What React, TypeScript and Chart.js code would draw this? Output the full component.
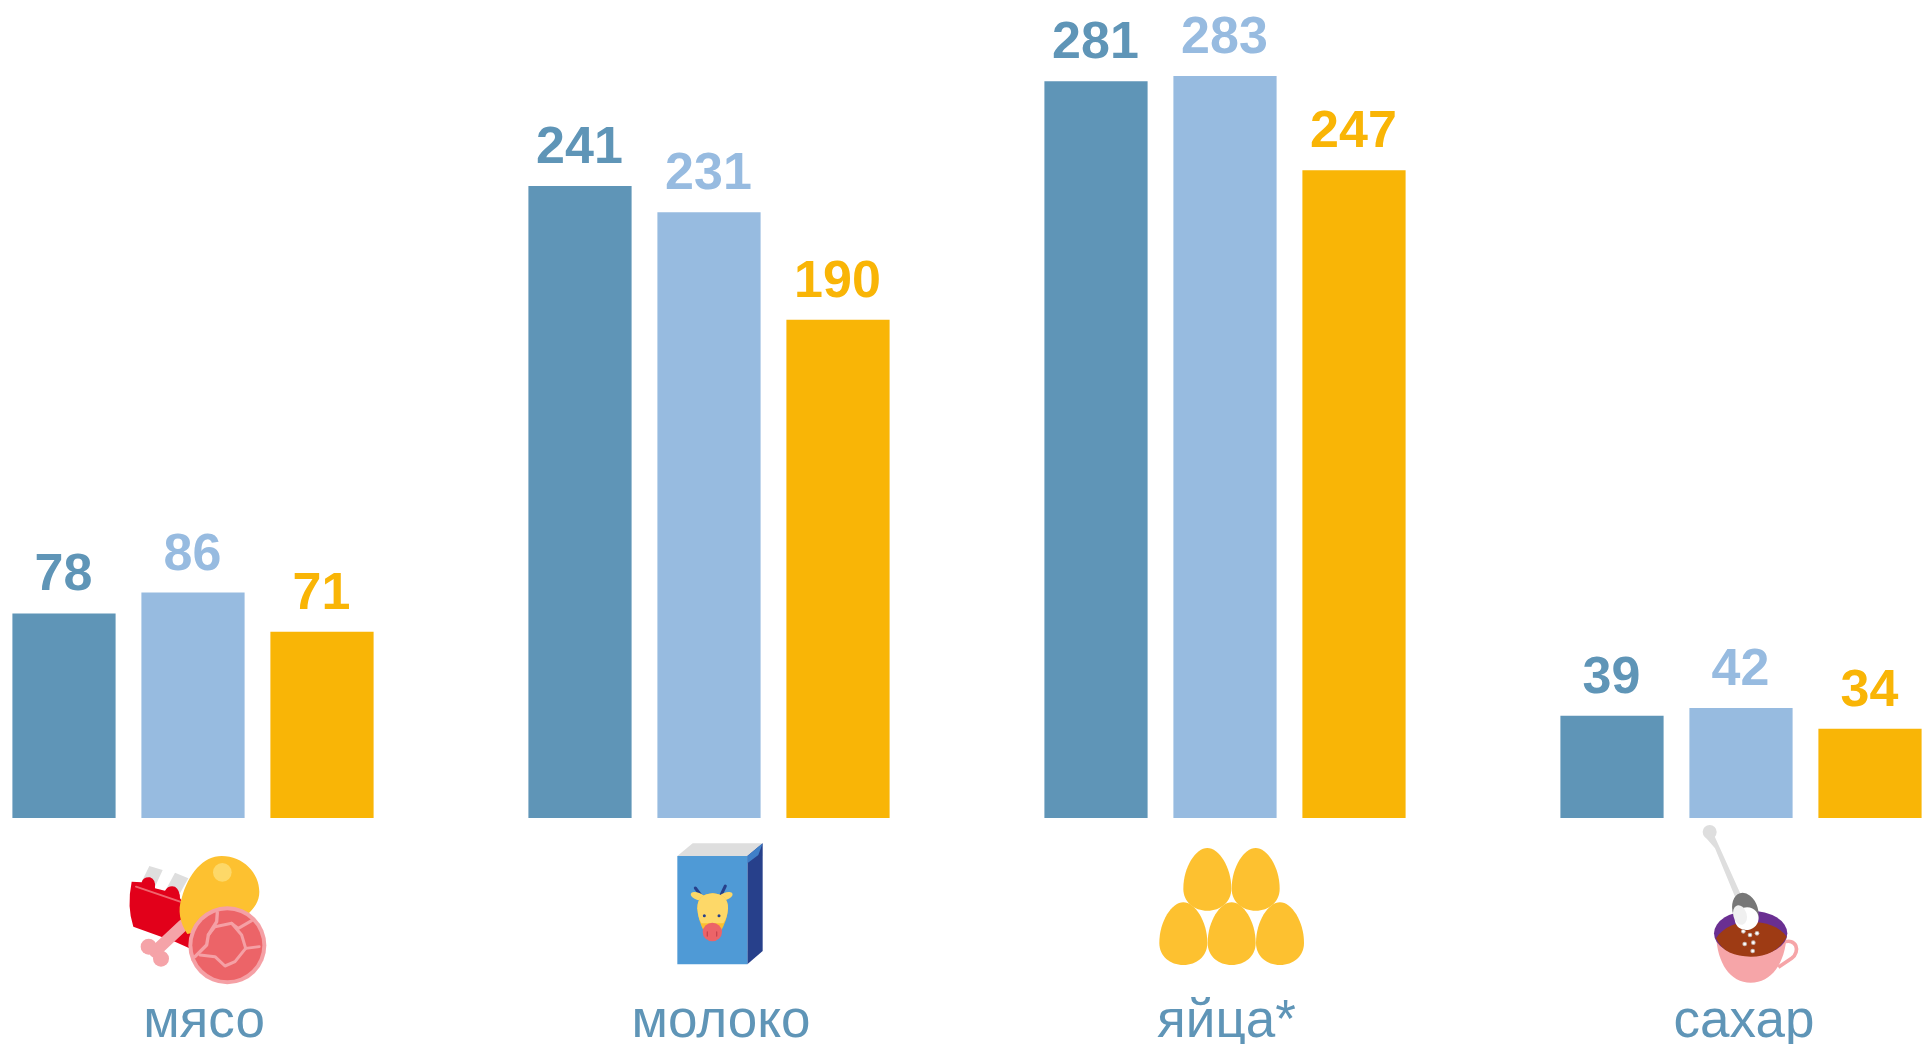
import React, { useEffect, useRef } from "react";
import { Chart, registerables } from "chart.js";

Chart.register(...registerables);

const categories = ["мясо", "молоко", "яйца*", "сахар"];
const seriesA = [78, 241, 281, 39];
const seriesB = [86, 231, 283, 42];
const seriesC = [71, 190, 247, 34];
const seriesColors = ["#5F95B7", "#97BBE0", "#F9B506"];
const categoryLabelShift = [11, 12, 1.5, 3];

type C = CanvasRenderingContext2D;

function poly(ctx: C, pts: number[][], fill: string) {
  ctx.fillStyle = fill;
  ctx.beginPath();
  pts.forEach((p, i) => (i ? ctx.lineTo(p[0], p[1]) : ctx.moveTo(p[0], p[1])));
  ctx.closePath();
  ctx.fill();
}
function circle(ctx: C, x: number, y: number, r: number, fill: string) {
  ctx.fillStyle = fill;
  ctx.beginPath();
  ctx.arc(x, y, r, 0, Math.PI * 2);
  ctx.fill();
}
function oval(ctx: C, x: number, y: number, rx: number, ry: number, rot: number, fill: string) {
  ctx.fillStyle = fill;
  ctx.beginPath();
  ctx.ellipse(x, y, rx, ry, rot, 0, Math.PI * 2);
  ctx.fill();
}
function stroke(ctx: C, pts: number[][], color: string, w: number) {
  ctx.strokeStyle = color;
  ctx.lineWidth = w;
  ctx.lineCap = "round";
  ctx.lineJoin = "round";
  ctx.beginPath();
  pts.forEach((p, i) => (i ? ctx.lineTo(p[0], p[1]) : ctx.moveTo(p[0], p[1])));
  ctx.stroke();
}
function egg(ctx: C, cx: number, top: number) {
  const hw = 72;
  const bottom = top + 188;
  const mid = top + 122;
  ctx.fillStyle = "#FDC130";
  ctx.beginPath();
  ctx.moveTo(cx, top);
  ctx.bezierCurveTo(cx + 34, top, cx + hw, mid - 66, cx + hw, mid);
  ctx.bezierCurveTo(cx + hw, bottom - 26, cx + 40, bottom, cx, bottom);
  ctx.bezierCurveTo(cx - 40, bottom, cx - hw, bottom - 26, cx - hw, mid);
  ctx.bezierCurveTo(cx - hw, mid - 66, cx - 34, top, cx, top);
  ctx.fill();
}

function drawMeat(ctx: C) {
  poly(ctx, [[148, 138], [188, 150], [165, 200], [125, 185]], "#DEDEDE");
  poly(ctx, [[225, 158], [265, 175], [240, 220], [200, 205]], "#DEDEDE");
  ctx.fillStyle = "#E2001A";
  ctx.beginPath();
  ctx.moveTo(95, 185);
  ctx.lineTo(125, 187);
  ctx.quadraticCurveTo(130, 170, 150, 172);
  ctx.quadraticCurveTo(168, 178, 165, 205);
  ctx.lineTo(195, 212);
  ctx.quadraticCurveTo(205, 195, 225, 200);
  ctx.quadraticCurveTo(240, 210, 240, 235);
  ctx.lineTo(290, 300);
  ctx.lineTo(275, 388);
  ctx.lineTo(225, 365);
  ctx.lineTo(100, 320);
  ctx.quadraticCurveTo(80, 260, 95, 185);
  ctx.fill();
  stroke(ctx, [[108, 200], [240, 245]], "#F0646E", 6);
  stroke(ctx, [[250, 315], [165, 395]], "#F5A3A8", 36);
  circle(ctx, 146, 380, 24, "#F5A3A8");
  circle(ctx, 183, 416, 24, "#F5A3A8");
  ctx.fillStyle = "#FDC130";
  ctx.beginPath();
  ctx.moveTo(365, 108);
  ctx.bezierCurveTo(430, 108, 478, 160, 478, 215);
  ctx.bezierCurveTo(478, 270, 420, 310, 345, 325);
  ctx.lineTo(262, 342);
  ctx.bezierCurveTo(240, 310, 232, 270, 245, 235);
  ctx.bezierCurveTo(265, 160, 310, 108, 365, 108);
  ctx.fill();
  circle(ctx, 367, 157, 28, "#FDD868");
  circle(ctx, 382, 376, 117, "#F5A0A5");
  circle(ctx, 382, 376, 105, "#EC6468");
  const vein = "#F5A0A5";
  stroke(ctx, [[352, 278], [350, 305], [325, 345], [320, 375], [285, 410]], vein, 10);
  stroke(ctx, [[325, 345], [345, 320], [395, 310], [425, 345], [437, 385], [405, 425], [375, 438], [345, 410], [300, 405]], vein, 9);
  stroke(ctx, [[395, 310], [415, 325], [455, 302]], vein, 9);
  stroke(ctx, [[437, 385], [478, 380]], vein, 8);
}

function drawMilk(ctx: C) {
  poly(ctx, [[172, 108], [218, 70], [428, 70], [382, 108]], "#DEDEDE");
  poly(ctx, [[382, 108], [428, 70], [428, 393], [382, 433]], "#27408B");
  poly(ctx, [[382, 108], [428, 70], [415, 105], [382, 130]], "#3F7FC8");
  poly(ctx, [[172, 108], [382, 108], [382, 433], [172, 433]], "#4F9AD6");
  stroke(ctx, [[250, 236], [226, 204]], "#27408B", 9);
  stroke(ctx, [[298, 236], [316, 198]], "#27408B", 9);
  oval(ctx, 234, 229, 23, 11, 0.35, "#FDD868");
  oval(ctx, 316, 229, 23, 11, -0.35, "#FDD868");
  ctx.fillStyle = "#FBBF30";
  ctx.beginPath();
  ctx.moveTo(232, 265);
  ctx.quadraticCurveTo(232, 222, 278, 220);
  ctx.quadraticCurveTo(324, 222, 324, 265);
  ctx.quadraticCurveTo(322, 300, 302, 335);
  ctx.lineTo(252, 335);
  ctx.quadraticCurveTo(234, 300, 232, 265);
  ctx.fill();
  ctx.fillStyle = "#FDD868";
  ctx.beginPath();
  ctx.moveTo(232, 265);
  ctx.quadraticCurveTo(232, 222, 278, 220);
  ctx.quadraticCurveTo(324, 222, 324, 265);
  ctx.quadraticCurveTo(322, 295, 310, 310);
  ctx.lineTo(244, 310);
  ctx.quadraticCurveTo(234, 295, 232, 265);
  ctx.fill();
  oval(ctx, 277, 336, 29, 28, 0, "#EC6468");
  circle(ctx, 253, 287, 4.5, "#27408B");
  circle(ctx, 297, 287, 4.5, "#27408B");
  stroke(ctx, [[262, 336], [262, 348]], "#C8454F", 4);
  stroke(ctx, [[290, 336], [290, 348]], "#C8454F", 4);
}

function drawEggs(ctx: C) {
  egg(ctx, 262, 84);
  egg(ctx, 407, 84);
  egg(ctx, 190, 247);
  egg(ctx, 335, 247);
  egg(ctx, 480, 247);
}

function drawSugar(ctx: C) {
  ctx.strokeStyle = "#F6A5A8";
  ctx.lineWidth = 11;
  ctx.beginPath();
  ctx.moveTo(428, 368);
  ctx.bezierCurveTo(470, 350, 482, 395, 455, 415);
  ctx.lineTo(415, 442);
  ctx.stroke();
  ctx.fillStyle = "#F6A5A8";
  ctx.beginPath();
  ctx.moveTo(228, 345);
  ctx.bezierCurveTo(232, 430, 270, 488, 332, 488);
  ctx.bezierCurveTo(395, 488, 435, 430, 440, 345);
  ctx.fill();
  oval(ctx, 332, 340, 110, 68, 0, "#6A2F92");
  ctx.fillStyle = "#9E3B14";
  ctx.beginPath();
  ctx.moveTo(228, 355);
  ctx.bezierCurveTo(250, 320, 290, 305, 332, 305);
  ctx.bezierCurveTo(375, 305, 420, 320, 440, 350);
  ctx.bezierCurveTo(420, 390, 380, 410, 332, 410);
  ctx.bezierCurveTo(285, 410, 245, 395, 228, 355);
  ctx.fill();
  poly(ctx, [[195, 50], [222, 45], [240, 85], [303, 225], [285, 230], [225, 85]], "#DEDEDE");
  circle(ctx, 209, 36, 21, "#DEDEDE");
  oval(ctx, 316, 272, 38, 55, -0.3, "#777777");
  oval(ctx, 320, 296, 36, 34, -0.3, "#FFFFFF");
  oval(ctx, 300, 285, 20, 30, -0.3, "#F0F0F0");
  [[310, 334], [330, 345], [351, 340], [314, 372], [340, 368], [338, 393]].forEach((d) => {
    circle(ctx, d[0], d[1], 7, "#C9B5AE");
    circle(ctx, d[0], d[1], 4, "#FFFFFF");
  });
}

const iconPlugin = {
  id: "icons",
  afterDraw(chart: Chart) {
    const ctx = chart.ctx;
    const items: [number, number, (c: C) => void][] = [
      [100, 820, drawMeat],
      [620, 820, drawMilk],
      [1120, 820, drawEggs],
      [1640, 820, drawSugar],
    ];
    items.forEach(([x, y, fn]) => {
      ctx.save();
      ctx.translate(x, y);
      ctx.scale(1 / 3, 1 / 3);
      fn(ctx);
      ctx.restore();
    });
  },
};

const textPlugin = {
  id: "texts",
  afterDatasetsDraw(chart: Chart) {
    const ctx = chart.ctx;
    ctx.save();
    ctx.textAlign = "center";
    ctx.textBaseline = "alphabetic";
    ctx.font = 'bold 52px "Liberation Sans", Arial, sans-serif';
    chart.data.datasets.forEach((ds, i) => {
      chart.getDatasetMeta(i).data.forEach((el, j) => {
        ctx.fillStyle = seriesColors[i];
        ctx.fillText(String(ds.data[j]), el.x - 0.5, el.y - 23);
      });
    });
    ctx.font = '53px "Liberation Sans", Arial, sans-serif';
    ctx.fillStyle = seriesColors[0];
    const x = chart.scales.x;
    categories.forEach((c, i) => {
      ctx.fillText(c, x.getPixelForTick(i) + categoryLabelShift[i], 1037);
    });
    ctx.restore();
  },
};

export default function App() {
  const ref = useRef<HTMLCanvasElement>(null);
  useEffect(() => {
    const chart = new Chart(ref.current!, {
      type: "bar",
      data: {
        labels: categories,
        datasets: [seriesA, seriesB, seriesC].map((data, i) => ({
          label: `s${i}`,
          data,
          backgroundColor: seriesColors[i],
          categoryPercentage: 0.75,
          barPercentage: 0.8,
          clip: false,
        })),
      },
      options: {
        animation: false,
        responsive: false,
        layout: { padding: { left: 193, right: 181, top: 31.4, bottom: 226 } },
        plugins: { legend: { display: false }, tooltip: { enabled: false } },
        scales: {
          x: { display: false, offset: false },
          y: { display: false, min: 0, max: 300 },
        },
      },
      plugins: [textPlugin, iconPlugin],
    });
    return () => chart.destroy();
  }, []);
  return (
    <div style={{ position: "fixed", left: 0, top: 0, width: 1922, height: 1044, background: "#fff" }}>
      <canvas ref={ref} width={1922} height={1044} style={{ display: "block" }} />
    </div>
  );
}
